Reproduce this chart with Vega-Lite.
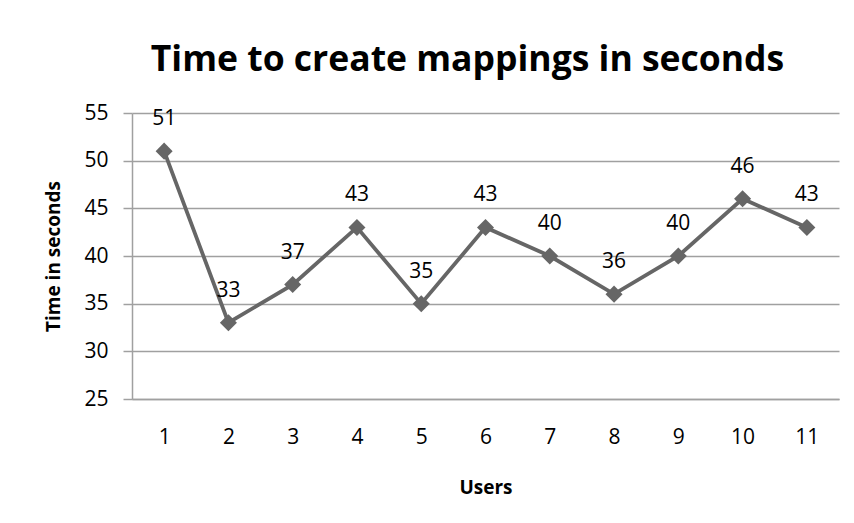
{
  "$schema": "https://vega.github.io/schema/vega-lite/v6.json",
  "width": 707,
  "height": 286,
  "autosize": {"type": "none"},
  "padding": {"left": 132, "top": 113, "right": 15, "bottom": 124},
  "background": "white",
  "title": {
    "text": "Time to create mappings in seconds",
    "font": "Open Sans",
    "fontSize": 35.5,
    "fontWeight": "bold",
    "color": "#000000",
    "anchor": "middle",
    "offset": 24,
    "dx": -18
  },
  "data": {
    "values": [
      {"user": "1", "seconds": 51},
      {"user": "2", "seconds": 33},
      {"user": "3", "seconds": 37},
      {"user": "4", "seconds": 43},
      {"user": "5", "seconds": 35},
      {"user": "6", "seconds": 43},
      {"user": "7", "seconds": 40},
      {"user": "8", "seconds": 36},
      {"user": "9", "seconds": 40},
      {"user": "10", "seconds": 46},
      {"user": "11", "seconds": 43}
    ]
  },
  "encoding": {
    "x": {
      "field": "user",
      "type": "ordinal",
      "sort": null,
      "title": "Users",
      "axis": {
        "labelAngle": 0,
        "labelFont": "Open Sans",
        "labelFontSize": 21,
        "labelColor": "#000000",
        "labelBaseline": "middle",
        "labelPadding": 38,
        "ticks": false,
        "domainColor": "#a0a0a0",
        "domainWidth": 1.5,
        "titleFont": "Open Sans",
        "titleFontSize": 19,
        "titleFontWeight": "bold",
        "titleColor": "#000000",
        "titlePadding": 31
      },
      "scale": {"paddingInner": 0, "paddingOuter": 0}
    },
    "y": {
      "field": "seconds",
      "type": "quantitative",
      "title": "Time in seconds",
      "scale": {"domain": [25, 55], "nice": false, "zero": false},
      "axis": {
        "values": [25, 30, 35, 40, 45, 50, 55],
        "labelFont": "Open Sans",
        "labelFontSize": 21,
        "labelColor": "#000000",
        "labelPadding": 15,
        "tickSize": 9,
        "tickColor": "#a0a0a0",
        "tickWidth": 1.5,
        "domainColor": "#a0a0a0",
        "domainWidth": 1.5,
        "gridColor": "#a0a0a0",
        "gridWidth": 1.5,
        "titleFont": "Open Sans",
        "titleFontSize": 19,
        "titleFontWeight": "bold",
        "titleColor": "#000000",
        "titlePadding": 20
      }
    }
  },
  "layer": [
    {
      "mark": {"type": "line", "color": "#666666", "strokeWidth": 3.8}
    },
    {
      "mark": {"type": "point", "shape": "diamond", "filled": true, "color": "#666666", "opacity": 1, "size": 290}
    },
    {
      "mark": {"type": "text", "font": "Open Sans", "fontSize": 21, "color": "#000000", "dy": -32, "baseline": "middle"},
      "encoding": {"text": {"field": "seconds", "type": "quantitative"}}
    }
  ],
  "config": {"view": {"stroke": null}}
}
